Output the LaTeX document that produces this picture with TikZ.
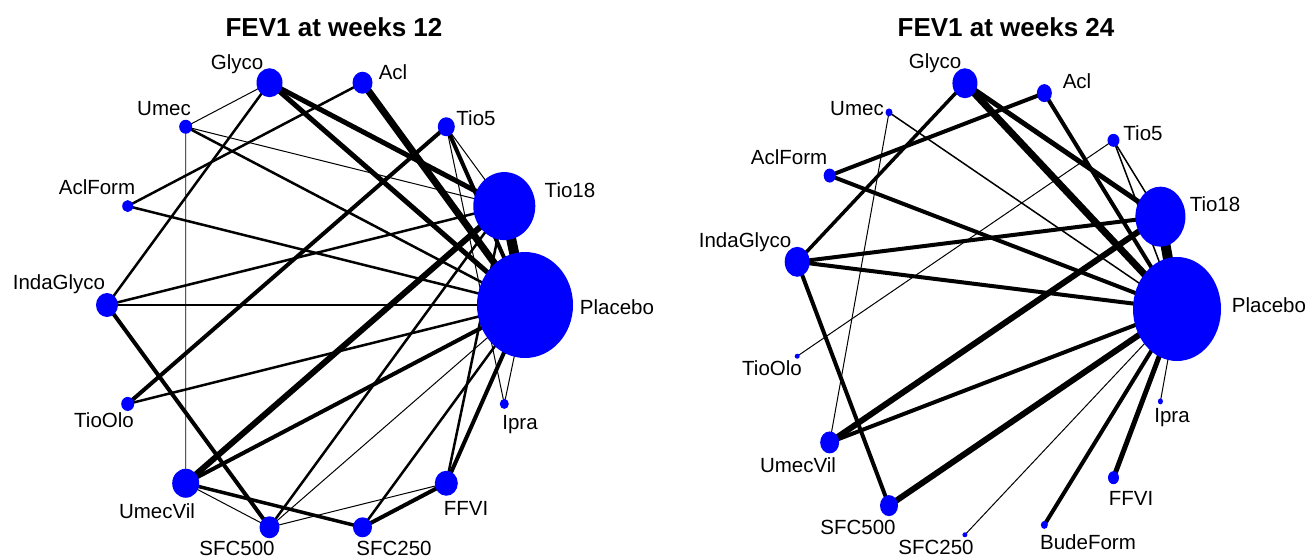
\documentclass[tikz,border=0pt]{standalone}
\usepackage{fontspec}
\setmainfont{Liberation Sans}
\usetikzlibrary{shapes.geometric,backgrounds}
\definecolor{nodeblue}{RGB}{0,0,255}
\begin{document}
\begin{tikzpicture}[x=1pt,y=-1pt,
  vtx/.style={shape=ellipse,fill=nodeblue,draw=none,inner sep=0pt,outer sep=0pt},
  lab/.style={font=\fontsize{20.5}{22}\selectfont,inner sep=0pt,anchor=base},
  ttl/.style={font=\fontsize{26}{28}\selectfont\bfseries,inner sep=0pt,anchor=base},
  lnk/.style={draw=black,line cap=butt}]
\useasboundingbox (0,0) rectangle (1316,558);

% titles
\node[ttl] (T1) at (334,36) {FEV1 at weeks 12};
\node[ttl] (T2) at (1006,36) {FEV1 at weeks 24};

% left network nodes
\foreach \n/\k/\w/\h in {Placebo/0/96/106, Tio18/1/62/68, Tio5/2/17/19, Acl/3/20/22,
  Glyco/4/26/29, Umec/5/13/14, AclForm/6/11/12, IndaGlyco/7/22/24, TioOlo/8/13/14,
  UmecVil/9/27/29, SFC500/10/20/22, SFC250/11/19/20, FFVI/12/23/25, Ipra/13/9/10}
  \node[vtx,minimum width=\w pt,minimum height=\h pt] (L\n)
    at ({316+209*cos(\k*360/14)},{305-228*sin(\k*360/14)}) {};

% right network nodes
\foreach \n/\k/\w/\h in {Placebo/0/88/104, Tio18/1/50/60, Tio5/2/12/13, Acl/3/15/18,
  Glyco/4/25/30, Umec/5/7/8, AclForm/6/12/14, IndaGlyco/7/25/30, TioOlo/8/5/5,
  UmecVil/9/19/22, SFC500/10/18/21, SFC250/11/5/5, BudeForm/12/7/8, FFVI/13/11/13, Ipra/14/5/6}
  \node[vtx,minimum width=\w pt,minimum height=\h pt] (R\n)
    at ({985+192*cos(\k*24)},{309-227*sin(\k*24)}) {};

\begin{scope}[on background layer]
\fill[white] (0,0) rectangle (1316,558);
\foreach \a/\b/\w in {Tio18/Placebo/10, Acl/Placebo/7, Glyco/Tio18/5, Glyco/Placebo/5,
  UmecVil/Tio18/6, UmecVil/Placebo/4, Tio5/TioOlo/4, Tio5/Placebo/4,
  IndaGlyco/SFC500/4, UmecVil/SFC250/3.5, SFC250/FFVI/4, FFVI/Placebo/4,
  FFVI/Tio18/2.5, SFC250/Placebo/2.5, SFC500/Tio18/2.5, SFC500/Placebo/1,
  SFC500/FFVI/1, SFC500/UmecVil/1, Umec/Glyco/1, Umec/Tio18/1, Umec/Placebo/2.5,
  Umec/UmecVil/0.8, AclForm/Acl/2.5, AclForm/Placebo/2.5, IndaGlyco/Glyco/2.5,
  IndaGlyco/Tio18/2.5, IndaGlyco/Placebo/2.5, TioOlo/Placebo/2.5, Tio5/Tio18/1,
  Tio5/Ipra/1, Ipra/Placebo/1}
  \draw[lnk,line width=\w pt] (L\a.center) -- (L\b.center);
\foreach \a/\b/\w in {Tio18/Placebo/10, Glyco/Placebo/7, Glyco/Tio18/5, Glyco/IndaGlyco/3.5,
  Acl/AclForm/4, Acl/Placebo/4, Umec/UmecVil/1, Umec/Placebo/1.5, AclForm/Placebo/4,
  IndaGlyco/Tio18/4, IndaGlyco/Placebo/4, IndaGlyco/SFC500/4, Tio5/TioOlo/1,
  Tio5/Tio18/1.5, Tio5/Placebo/1.5, UmecVil/Tio18/6, UmecVil/Placebo/4,
  SFC500/Placebo/6, SFC250/Placebo/1, BudeForm/Placebo/4, FFVI/Placebo/5, Ipra/Placebo/1}
  \draw[lnk,line width=\w pt] (R\a.center) -- (R\b.center);
\end{scope}

% left labels
\foreach \n/\x/\y in {Glyco/237/62, Acl/393/72, Umec/164/108, Tio5/476/118, Tio18/570/190,
  AclForm/97/187, IndaGlyco/59/282, Placebo/617/307, TioOlo/104/420, Ipra/520/422,
  UmecVil/157/511, FFVI/466/508, SFC500/237/548, SFC250/394/548}
  \node[lab] (LL\n) at (\x,\y+7) {\n};

% right labels
\foreach \n/\x/\y in {Glyco/935/61, Acl/1077/81, Umec/857/108, Tio5/1143/133, Tio18/1215/204,
  AclForm/789/157, IndaGlyco/745/240, Placebo/1269/305, TioOlo/772/368, Ipra/1172/415,
  UmecVil/798/465, SFC500/858/527, SFC250/936/547, BudeForm/1088/542, FFVI/1131/498}
  \node[lab] (RL\n) at (\x,\y+7) {\n};
\end{tikzpicture}
\end{document}
